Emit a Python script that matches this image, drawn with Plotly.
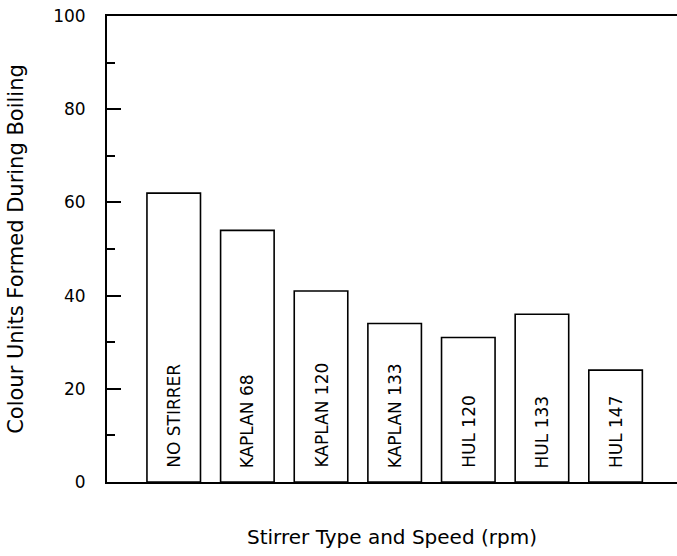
import plotly.graph_objects as go

categories = ["NO STIRRER", "KAPLAN 68", "KAPLAN 120", "KAPLAN 133", "HUL 120", "HUL 133", "HUL 147"]
values = [62, 54, 41, 34, 31, 36, 24]
y_ticks = [0, 20, 40, 60, 80, 100]

positions = list(range(1, len(categories) + 1))
FONT = "DejaVu Sans"

fig = go.Figure()
fig.add_trace(go.Bar(
    x=positions, y=values, width=0.727,
    marker=dict(color="white", line=dict(color="black", width=1.6)),
    hoverinfo="skip", showlegend=False,
))

for p, c in zip(positions, categories):
    fig.add_annotation(
        x=p, y=0, xref="x", yref="y", text=c, textangle=-90,
        showarrow=False, yanchor="bottom", xanchor="center", yshift=12,
        font=dict(family=FONT, size=17, color="black"),
    )

fig.update_layout(
    width=677, height=556,
    margin=dict(l=107, r=0, t=16, b=74),
    paper_bgcolor="white", plot_bgcolor="white",
    xaxis=dict(
        range=[0.094, 7.834], showticklabels=False, ticks="", showgrid=False,
        zeroline=False, showline=True, linecolor="black", linewidth=2, mirror=True,
        title=dict(text="Stirrer Type and Speed (rpm)", font=dict(family=FONT, size=20, color="black"),
                   standoff=47),
    ),
    yaxis=dict(
        range=[0, 100], tickvals=y_ticks, ticks="inside", ticklen=14, tickwidth=1.5,
        tickcolor="black", showgrid=False, zeroline=False, showline=True,
        linecolor="black", linewidth=2,
        tickfont=dict(family=FONT, size=17, color="black"), ticklabelstandoff=16,
        minor=dict(dtick=10, ticks="inside", ticklen=8, tickwidth=1.5, tickcolor="black", showgrid=False),
        title=dict(text="Colour Units Formed During Boiling", font=dict(family=FONT, size=21, color="black"),
                   standoff=24),
    ),
)

fig.write_html("out.html")
